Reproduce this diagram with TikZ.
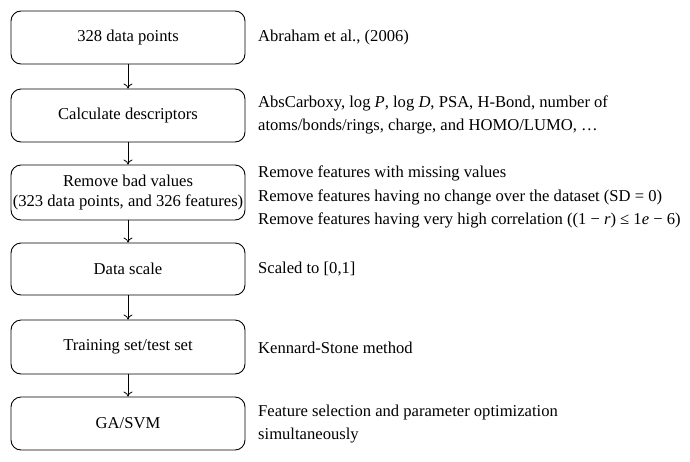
\documentclass[tikz,border=0pt]{standalone}
\usepackage{fontspec}
\setmainfont{Liberation Serif}
\usetikzlibrary{arrows.meta}
\begin{document}
\begin{tikzpicture}[x=1pt,y=-1pt,
  stepbox/.style={draw, line width=0.9pt, rounded corners=10pt, minimum width=234pt, minimum height=53pt, align=center, inner sep=0pt, font=\fontsize{16.6}{19.5}\selectfont},
  note/.style={anchor=west, align=left, inner sep=0pt, font=\fontsize{16.6}{23.5}\selectfont},
  arr/.style={draw, line width=0.8pt, -{To[length=5pt,width=9pt]}}]
\useasboundingbox (0,0) rectangle (690,461);
\node[stepbox] (b1) at (128,37.5) {328 data points};
\node[stepbox] (b2) at (128,115.5) {Calculate descriptors};
\node[stepbox, minimum height=55pt] (b3) at (128,192.5) {Remove bad values\\(323 data points, and 326 features)};
\node[stepbox, minimum height=52pt] (b4) at (128,269) {Data scale};
\node[stepbox, minimum height=54pt] (b5) at (128,347) {Training set/test set};
\node[stepbox, minimum height=53pt] (b6) at (128,423.5) {GA/SVM};
\draw[arr] (b1) -- (b2);
\draw[arr] (b2) -- (b3);
\draw[arr] (b3) -- (b4);
\draw[arr] (b4) -- (b5);
\draw[arr] (b5) -- (b6);
\node[note] (t1) at (258,38) {Abraham et al., (2006)};
\node[note] (t2) at (258,115) {AbsCarboxy, log \textit{P}, log \textit{D}, PSA, H-Bond, number of\\atoms/bonds/rings, charge, and HOMO/LUMO, \dots};
\node[note] (t3) at (258,197) {Remove features with missing values\\Remove features having no change over the dataset (SD = 0)\\Remove features having very high correlation ((1 − \textit{r}) ≤ 1\textit{e} − 6)};
\node[note] (t4) at (258,269) {Scaled to [0,1]};
\node[note] (t5) at (258,348) {Kennard-Stone method};
\node[note] (t6) at (258,424) {Feature selection and parameter optimization\\simultaneously};
\end{tikzpicture}
\end{document}
